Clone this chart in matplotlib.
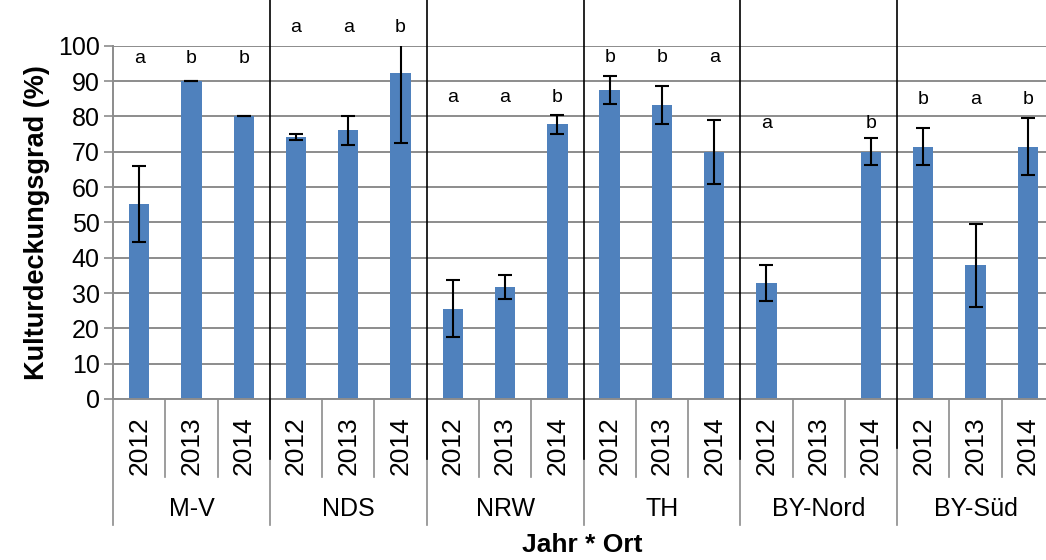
import numpy as np
import matplotlib.pyplot as plt
from matplotlib.transforms import blended_transform_factory

plt.rcParams['font.family'] = ['Liberation Sans', 'DejaVu Sans']

# data
orte = ['M-V', 'NDS', 'NRW', 'TH', 'BY-Nord', 'BY-Süd']
jahre = ['2012', '2013', '2014']
werte = [55.2, 90.0, 80.0,
         74.1, 76.0, 92.2,
         25.6, 31.6, 77.8,
         87.4, 83.2, 69.9,
         32.8, np.nan, 70.0,
         71.4, 37.8, 71.4]
fehler = [10.7, 0.0, 0.0,
          0.9, 4.0, 19.7,
          8.1, 3.4, 2.7,
          4.0, 5.4, 9.1,
          5.2, np.nan, 3.8,
          5.2, 11.7, 8.0]
buchstaben = ['a', 'b', 'b',
              'a', 'a', 'b',
              'a', 'a', 'b',
              'b', 'b', 'a',
              'a', '', 'b',
              'b', 'a', 'b']
buchstaben_y = [96.4] * 3 + [105.2] * 3 + [85.2] * 3 + [96.6] * 3 + [78.0] * 3 + [84.9] * 3

grau = '#8c8c8c'
blau = '#4f81bd'

fig = plt.figure(figsize=(10.46, 5.6), dpi=100)
ax = fig.add_axes([113 / 1046, 1 - 399 / 560, (1054 - 113) / 1046, (399 - 45.7) / 560])

x = np.arange(len(werte))
ax.bar(x, werte, width=0.39, color=blau, zorder=2)
ax.errorbar(x, werte, yerr=fehler, fmt='none', ecolor='black', elinewidth=1.5,
            capsize=5, capthick=1.5, zorder=3)

for xi, b, by in zip(x, buchstaben, buchstaben_y):
    ax.text(xi, by, b, ha='center', va='center', fontsize=14, clip_on=False)

ax.set_xlim(-0.5, len(werte) - 0.5)
ax.set_ylim(0, 100)
ax.set_yticks(np.arange(0, 101, 10))
ax.tick_params(axis='y', labelsize=18, length=6.5, width=1.2, color=grau, pad=3)
ax.set_xticks([])
ax.yaxis.grid(True, color=grau, linewidth=1.4, zorder=0)
ax.set_axisbelow(True)
for s in ['top', 'right']:
    ax.spines[s].set_visible(False)
for s in ['left', 'bottom']:
    ax.spines[s].set_color(grau)
    ax.spines[s].set_linewidth(1.4)

ax.set_ylabel('Kulturdeckungsgrad (%)', fontsize=19.5, fontweight='bold', labelpad=6)

# category axis below the plot
trans = blended_transform_factory(ax.transData, ax.transAxes)
px = 1 / 353.3  # one pixel in axes units (vertical)
for i, j in enumerate(jahre * len(orte)):
    ax.text(i, -47 * px, j, transform=trans, rotation=90, ha='center', va='center',
            fontsize=19)
    if i % 3 != 0:
        ax.plot([i - 0.5, i - 0.5], [0, -78 * px], transform=trans, color=grau,
                lw=1.2, clip_on=False)
for k, o in enumerate(orte):
    ax.text(3 * k + 1, -110 * px, o, transform=trans, ha='center', va='center', fontsize=18)
    ax.plot([3 * k - 0.5, 3 * k - 0.5], [0, -126 * px], transform=trans, color=grau,
            lw=1.2, clip_on=False)

# black separators between the sites
for k in range(1, len(orte)):
    oben, unten = (1 + 384 * px, -60 * px) if k < 5 else (1 + 394 * px, -49 * px)
    ax.plot([3 * k - 0.5, 3 * k - 0.5], [unten, oben], transform=trans, color='black',
            lw=1.2, clip_on=False, zorder=4)

fig.text(582 / 1046, 1 - 545 / 560, 'Jahr * Ort', ha='center', va='center',
         fontsize=19, fontweight='bold')

fig.savefig('out.png', dpi=100)
